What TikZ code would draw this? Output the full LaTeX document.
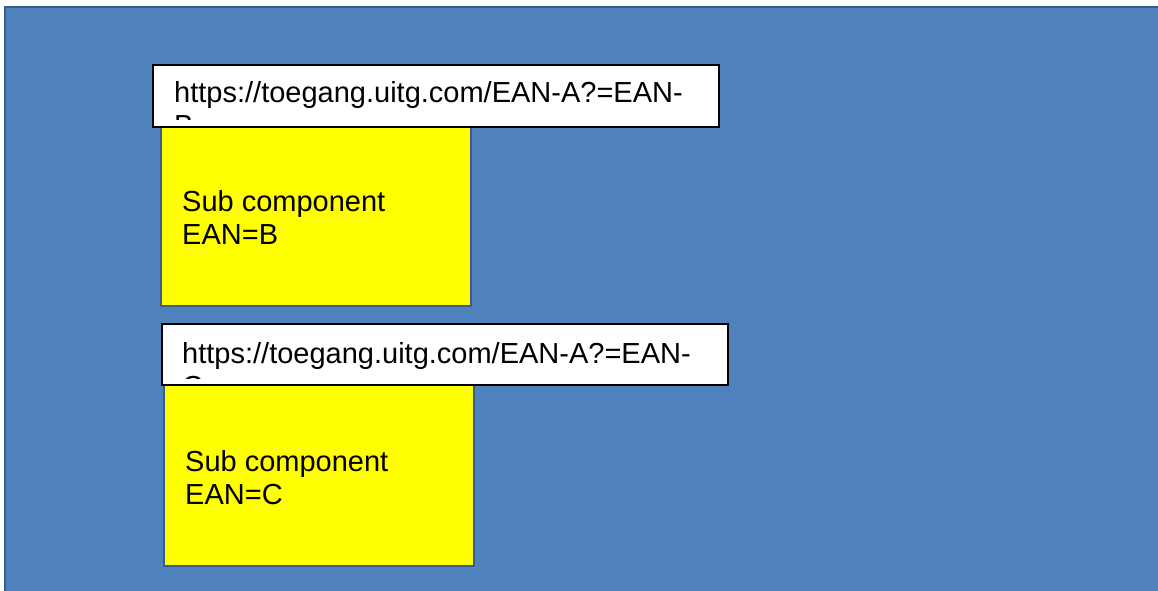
\documentclass[tikz,border=0pt]{standalone}
\usepackage{fontspec}
\setmainfont{Liberation Sans}
\usepackage{xcolor}
\definecolor{slideblue}{HTML}{4F81BD}
\definecolor{slideedge}{HTML}{385D8A}
\definecolor{notefill}{HTML}{FFFF00}
\tikzset{
    subbox/.style={draw=slideedge, line width=2pt, fill=notefill, minimum width=310pt, minimum height=200pt, inner sep=0pt, anchor=south west},
    urlbox/.style={draw=black, line width=2pt, fill=white, minimum width=566pt, minimum height=62pt, inner sep=0pt, anchor=north west},
    boxtext/.style={anchor=base west, inner sep=0pt, align=left, font=\fontsize{29}{33}\selectfont}
}
\begin{document}
\begin{tikzpicture}[x=1pt, y=-1pt]
    \useasboundingbox (0,0) rectangle (1158,590);
    % 背景
    \fill[slideblue] (5,7) rectangle (1165,600);
    \draw[slideedge, line width=2pt] (5,600) -- (5,7) -- (1165,7);

    % 部品 B (基線は二行目)
    \node[subbox] (subB) at (160,307) {};
    \node[boxtext] (subBtext) at (182,244) {Sub component\\EAN=B};
    \node[urlbox] (urlB) at (152,64) {};
    \begin{scope}
        \clip (urlB.north west) rectangle ([yshift=9pt]urlB.south east);
        \node[boxtext] (urlBtext) at (174,135) {https://toegang.uitg.com/EAN-A?=EAN-\\B};
    \end{scope}

    % 部品 C
    \node[subbox] (subC) at (163,567) {};
    \node[boxtext] (subCtext) at (185,504) {Sub component\\EAN=C};
    \node[urlbox, minimum height=61pt] (urlC) at (160.5,323) {};
    \begin{scope}
        \clip (urlC.north west) rectangle ([yshift=8pt]urlC.south east);
        \node[boxtext] (urlCtext) at (182,396) {https://toegang.uitg.com/EAN-A?=EAN-\\C};
    \end{scope}
\end{tikzpicture}
\end{document}
